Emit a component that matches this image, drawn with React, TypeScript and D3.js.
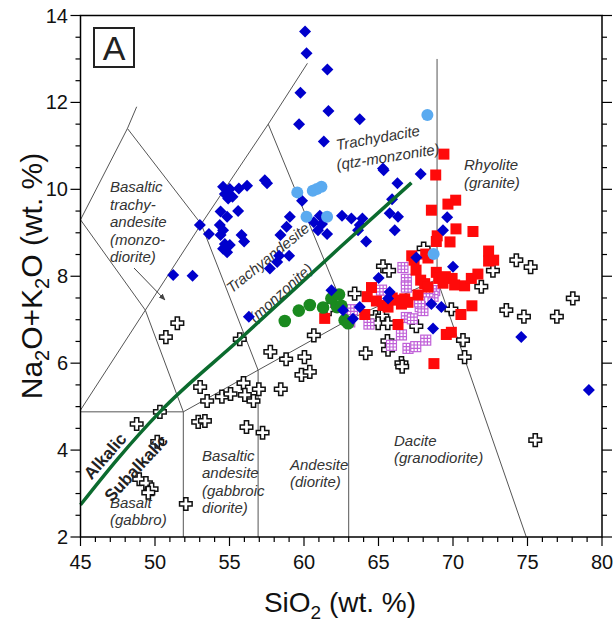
import React from 'react';
import * as d3 from 'd3';

const W = 614;
const H = 631;
const xDomain: [number, number] = [45, 80];
const yDomain: [number, number] = [2, 14];
const xTickLabels = [45, 50, 55, 60, 65, 70, 75, 80];
const yTickLabels = [2, 4, 6, 8, 10, 12, 14];

// Field boundaries (SiO2, Na2O+K2O)
const fieldLines: [number, number][][] = [
  [[45, 4.88], [51.9, 4.88]],
  [[51.9, 2], [51.9, 4.88]],
  [[51.9, 4.88], [56.92, 5.84]],
  [[56.92, 2], [56.92, 5.84]],
  [[56.92, 5.84], [63, 7]],
  [[63, 2], [63, 7]],
  [[63, 7], [68.93, 7.93]],
  [[68.93, 7.93], [68.93, 13.0]],
  [[68.93, 7.93], [74.92, 2]],
  [[45, 4.92], [49.35, 7.22], [53.1, 9.2], [57.6, 11.5], [60.23, 12.9]],
  [[49.35, 7.22], [51.9, 4.88]],
  [[45, 9.3], [49.35, 7.22]],
  [[45, 9.3], [48.15, 11.4]],
  [[48.15, 11.4], [48.77, 11.9]],
  [[48.15, 11.4], [53.1, 9.2]],
  [[53.1, 9.2], [56.92, 5.84]],
  [[57.6, 11.5], [63, 7]],
];

// Alkalic / Subalkalic divide
const alkalineDivide: [number, number][] = [
  [45, 2.74], [47.5, 3.8], [50.33, 4.88], [55.69, 6.55], [62.4, 8.66], [67.21, 10.15],
];

// Blue diamonds
const blueDiamonds: [number, number][] = [
  [60.07, 13.63], [60.17, 13.13], [61.57, 12.76], [59.76, 12.22], [61.64, 11.8], [59.67, 11.5],
  [61.33, 11.1], [63.74, 11.61], [65.3, 10.48], [65.35, 10.44], [66.27, 10.14], [67.83, 10.35],
  [65.91, 9.77], [65.75, 9.45], [66.31, 9.37], [66.09, 9.06], [69.61, 9.36], [69.33, 9.06],
  [67.54, 8.43], [70.0, 8.22], [65.01, 7.96], [65.75, 7.64], [65.64, 7.49], [63.74, 7.29],
  [68.55, 7.36], [69.22, 7.29], [63.29, 7.02], [68.66, 6.8], [74.58, 6.6], [79.12, 5.38],
  [62.55, 9.39], [63.18, 9.33], [63.92, 9.33], [63.74, 9.18], [63.63, 9.06], [64.17, 8.8],
  [57.37, 10.21], [57.52, 10.14], [54.57, 10.06], [55.02, 10.01], [55.63, 10.02], [56.18, 10.08],
  [54.69, 9.89], [54.91, 9.79], [55.2, 9.83], [54.4, 9.49], [54.84, 9.37], [55.58, 9.5],
  [53.01, 9.18], [53.62, 8.97], [54.35, 9.18], [54.57, 9.06], [54.4, 8.95], [55.81, 8.95],
  [55.98, 8.8], [54.69, 8.74], [55.02, 8.72], [54.57, 8.63], [54.84, 8.55], [59.05, 9.37],
  [58.83, 9.14], [58.42, 8.95], [59.0, 8.47], [58.33, 8.47], [58.2, 8.33], [57.71, 8.18],
  [52.52, 8.01], [51.22, 8.03], [56.3, 7.07], [59.87, 9.74], [60.66, 9.24], [61.06, 9.39],
  [61.21, 9.2], [60.94, 9.06], [61.55, 8.97], [61.84, 7.68], [62.62, 7.22],
];

// Light blue circles
const lightBlueCircles: [number, number][] = [
  [59.55, 9.93], [60.59, 9.97], [60.86, 10.01], [61.17, 10.06], [60.17, 9.37], [61.55, 9.37],
  [68.28, 11.71], [68.7, 8.51],
];

// Green circles
const greenCircles: [number, number][] = [
  [58.71, 6.97], [59.65, 7.21], [60.39, 7.34], [61.28, 7.28], [61.84, 7.49], [62.35, 7.58],
  [62.22, 7.29], [62.51, 7.32], [62.73, 6.99], [62.96, 6.92],
];

// Red squares
const redSquares: [number, number][] = [
  [69.39, 10.81], [68.84, 10.33], [70.18, 9.75], [69.66, 9.66], [68.55, 9.52], [70.2, 9.09],
  [71.34, 9.03], [68.94, 8.93], [68.88, 8.8], [69.8, 8.79], [72.39, 8.58], [72.39, 8.35],
  [72.73, 8.37], [68.17, 8.51], [68.32, 8.42], [67.39, 8.37], [67.23, 8.47], [67.52, 8.14],
  [67.83, 7.91], [68.1, 7.83], [68.32, 7.75], [68.88, 8.09], [69.04, 7.95], [69.49, 7.99],
  [69.94, 7.95], [70.11, 7.8], [70.78, 7.78], [71.23, 7.95], [71.67, 8.05], [69.33, 7.84],
  [64.53, 7.74], [64.24, 7.53], [64.86, 7.43], [65.3, 7.33], [65.64, 7.29], [65.92, 7.5],
  [66.2, 7.45], [66.54, 7.36], [66.76, 7.48], [66.98, 7.4], [67.65, 7.57], [64.08, 7.12],
  [66.31, 6.89], [70.53, 7.12], [71.27, 7.32], [69.55, 6.66], [69.89, 6.71], [68.72, 5.99],
  [61.39, 7.03],
];

// Purple gridded squares
const purpleSquares: [number, number][] = [
  [66.64, 8.2], [66.87, 7.93], [66.87, 7.75], [65.2, 7.68], [63.25, 7.23], [63.07, 6.95],
  [64.36, 6.9], [66.87, 7.05], [67.27, 7.02], [67.8, 7.3], [67.98, 7.21], [68.77, 7.67],
  [68.66, 7.54], [66.54, 6.65], [65.87, 6.41], [66.98, 6.34], [67.5, 6.38], [68.17, 6.53],
  [67.76, 7.41], [68.32, 7.64],
];

// Open crosses
const crosses: [number, number][] = [
  [51.5, 6.92], [50.73, 6.6], [55.69, 6.55], [57.74, 6.26], [58.8, 6.09], [60.03, 6.14],
  [59.83, 5.73], [60.39, 5.8], [53.03, 5.45], [53.5, 5.13], [54.49, 5.23], [55.07, 5.29],
  [55.94, 5.54], [56.03, 5.27], [56.61, 5.13], [56.97, 5.4], [58.44, 5.4], [50.33, 4.88],
  [48.77, 4.6], [52.9, 4.65], [53.35, 4.67], [56.14, 4.53], [57.22, 4.4], [50.15, 4.19],
  [48.94, 3.33], [49.39, 3.24], [49.77, 3.1], [49.55, 3.02], [52.07, 2.76], [60.66, 6.64],
  [61.68, 7.24], [63.4, 7.6], [64.14, 6.23], [65.3, 8.23], [65.71, 8.13], [68.03, 8.64],
  [72.68, 8.13], [74.25, 8.37], [75.21, 8.21], [71.9, 7.76], [78.04, 7.49], [73.58, 7.22],
  [74.76, 7.07], [76.97, 7.07], [69.89, 7.24], [64.81, 7.06], [65.26, 7.08], [64.98, 6.92],
  [65.62, 6.92], [67.54, 6.85], [65.6, 6.51], [65.64, 6.31], [66.54, 6.0], [66.59, 5.92],
  [70.67, 6.53], [70.78, 6.14], [75.52, 4.23],
];

const FONT = 'Liberation Sans, Arial, Helvetica, sans-serif';
const NARROW = 'Liberation Sans Narrow, Arial Narrow, Liberation Sans, sans-serif';
const LABEL = '#333';

export default function App() {
  const x = d3.scaleLinear().domain(xDomain).range([80.5, 602]);
  const y = d3.scaleLinear().domain(yDomain).range([537, 15.5]);
  const line = d3.line<[number, number]>().x((d) => x(d[0])).y((d) => y(d[1]));
  const curve = d3
    .line<[number, number]>()
    .x((d) => x(d[0]))
    .y((d) => y(d[1]))
    .curve(d3.curveMonotoneX);

  const xMinor = d3.range(45, 80.001, 1);
  const yMinor = d3.range(2, 14.001, 0.5);
  const cross = d3.symbol(d3.symbolCross, 88)() as string;

  const diamond = (cx: number, cy: number, r: number) =>
    `M${cx},${cy - r}L${cx + r},${cy}L${cx},${cy + r}L${cx - r},${cy}Z`;

  const [x0, x1] = x.range();
  const [y0, y1] = y.range();

  return (
    <svg
      width={W}
      height={H}
      style={{ position: 'absolute', left: 0, top: 0, background: '#fff' }}
      fontFamily={FONT}
    >
      <rect x={0} y={0} width={W} height={H} fill="#fff" />
      {/* field lines */}
      <g fill="none" stroke="#555" strokeWidth={1}>
        {fieldLines.map((seg, i) => (
          <path key={i} d={line(seg) as string} />
        ))}
      </g>
      {/* arrow */}
      <defs>
        <marker id="ah" viewBox="0 0 10 10" refX="9" refY="5" markerWidth="7" markerHeight="7" orient="auto">
          <path d="M0,1L10,5L0,9Z" fill="#444" />
        </marker>
      </defs>
      <line x1={134} y1={268} x2={165} y2={300} stroke="#444" strokeWidth={1} markerEnd="url(#ah)" />

      {/* field labels */}
      <g fill={LABEL} fontStyle="italic" fontSize={15} fontFamily={NARROW}>
        {['Basaltic', 'trachy-', 'andesite', '(monzo-', 'diorite)'].map((t, i) => (
          <text key={t} x={110} y={192 + i * 17.5}>{t}</text>
        ))}
        {['Basaltic', 'andesite', '(gabbroic', 'diorite)'].map((t, i) => (
          <text key={t + 'b'} x={202} y={461 + i * 17.3}>{t}</text>
        ))}
        <text x={290} y={470}>Andesite</text>
        <text x={290} y={487}>(diorite)</text>
        <text x={110} y={508}>Basalt</text>
        <text x={110} y={525}>(gabbro)</text>
        <text x={394} y={446}>Dacite</text>
        <text x={394} y={463}>(granodiorite)</text>
        <text x={464} y={170}>Rhyolite</text>
        <text x={464} y={188}>(granite)</text>
        <text x={378} y={143} textAnchor="middle" transform="rotate(-10 378 138)">Trachydacite</text>
        <text x={388} y={162} textAnchor="middle" transform="rotate(-9 388 157)">(qtz-monzonite)</text>
        <text x={268} y={263} textAnchor="middle" transform="rotate(-39 268 258)">Trachyandesite</text>
        <text x={281} y={298} textAnchor="middle" transform="rotate(-42 281 293)">(monzonite)</text>
      </g>

      {/* markers */}
      <g>
        {crosses.map((d, i) => (
          <path key={i} d={cross} transform={`translate(${x(d[0])},${y(d[1])})`} fill="#fff" stroke="#111" strokeWidth={1.5} />
        ))}
      </g>
      <g>
        {purpleSquares.map((d, i) => {
          const cx = x(d[0]);
          const cy = y(d[1]);
          const s = 10;
          const a = cx - s / 2;
          const b = cy - s / 2;
          return (
            <g key={i} stroke="#c060d8" strokeWidth={1.2} fill="#fff">
              <rect x={a} y={b} width={s} height={s} />
              <path d={`M${a + s / 3},${b}V${b + s}M${a + (2 * s) / 3},${b}V${b + s}M${a},${b + s / 3}H${a + s}M${a},${b + (2 * s) / 3}H${a + s}`} fill="none" />
            </g>
          );
        })}
      </g>
      <g fill="#ff0a0a">
        {redSquares.map((d, i) => (
          <rect key={i} x={x(d[0]) - 5.5} y={y(d[1]) - 5.5} width={11} height={11} />
        ))}
      </g>
      <g fill="#1a8a1f">
        {greenCircles.map((d, i) => (
          <circle key={i} cx={x(d[0])} cy={y(d[1])} r={6.3} />
        ))}
      </g>
      <g fill="#0000cc">
        {blueDiamonds.map((d, i) => (
          <path key={i} d={diamond(x(d[0]), y(d[1]), 6)} />
        ))}
      </g>
      <g fill="#5aaaf0">
        {lightBlueCircles.map((d, i) => (
          <circle key={i} cx={x(d[0])} cy={y(d[1])} r={6} />
        ))}
      </g>

      {/* alkalic divide */}
      <path d={curve(alkalineDivide) as string} fill="none" stroke="#0b6b2e" strokeWidth={3.5} />
      <g fill="#222" fontWeight="bold" fontSize={17} fontFamily={NARROW}>
        <text x={105} y={462} textAnchor="middle" transform="rotate(-49 105 456)">Alkalic</text>
        <text x={136} y={474} textAnchor="middle" transform="rotate(-47 136 468)">Subalkalic</text>
      </g>

      {/* frame */}
      <g stroke="#000" strokeWidth={1.5} fill="none">
        <path d={`M${x0},${y1}H${x1}V${y0}H${x0}Z`} />
      </g>
      {/* ticks */}
      <g stroke="#000" strokeWidth={1.2}>
        {xMinor.map((v) => {
          const major = Math.abs(v % 5) < 1e-6;
          return <line key={v} x1={x(v)} x2={x(v)} y1={y0} y2={y0 + (major ? 9 : 5)} />;
        })}
        {yMinor.map((v) => {
          const major = Math.abs(v % 2) < 1e-6;
          return (
            <g key={v}>
              <line x1={x0} x2={x0 - (major ? 10 : 5)} y1={y(v)} y2={y(v)} />
              <line x1={x1} x2={x1 + (major ? 10 : 5)} y1={y(v)} y2={y(v)} />
            </g>
          );
        })}
      </g>
      <g fontSize={20} fill="#111" fontFamily={NARROW}>
        {xTickLabels.map((v) => (
          <text key={v} x={x(v)} y={569} textAnchor="middle">{v}</text>
        ))}
        {yTickLabels.map((v) => (
          <text key={v} x={68} y={y(v) + 7} textAnchor="end">{v}</text>
        ))}
      </g>

      {/* panel letter */}
      <rect x={94} y={28} width={40} height={39} fill="#fff" stroke="#222" strokeWidth={2} />
      <text x={114} y={60} textAnchor="middle" fontSize={34} fill="#222">A</text>

      {/* axis titles */}
      <text x={340} y={612} textAnchor="middle" fontSize={28} fill="#111">
        SiO<tspan fontSize={19} dy={7}>2</tspan>
        <tspan dy={-7}> (wt. %)</tspan>
      </text>
      <text transform="translate(42,276) rotate(-90)" textAnchor="middle" fontSize={30} fill="#111">
        Na<tspan fontSize={20} dy={7}>2</tspan>
        <tspan dy={-7}>O+K</tspan>
        <tspan fontSize={20} dy={7}>2</tspan>
        <tspan dy={-7}>O (wt. %)</tspan>
      </text>
    </svg>
  );
}
